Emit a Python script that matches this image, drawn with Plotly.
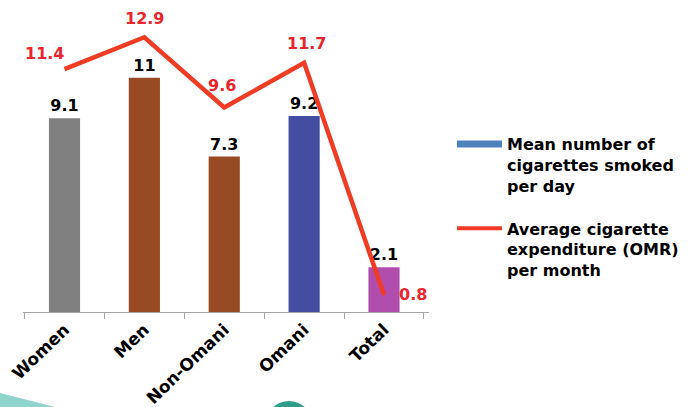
import plotly.graph_objects as go

categories = ["Women", "Men", "Non-Omani", "Omani", "Total"]
cigs_per_day = [9.1, 11, 7.3, 9.2, 2.1]
expenditure = [11.4, 12.9, 9.6, 11.7, 0.8]
bar_colors = ["#808080", "#964B22", "#964B22", "#434DA1", "#B14DAD"]
bar_name = "Mean number of<br>cigarettes smoked<br>per day"
line_name = "Average cigarette<br>expenditure (OMR)<br>per month"

W, H = 691, 407
ML, MR, MT, MB = 23, 262, 10, 95
PW, PH = W - ML - MR, H - MT - MB

def px_x(p):
    return (p - ML) / PW

def px_y(p):
    return (H - MB - p) / PH

FONT = "DejaVu Sans"

fig = go.Figure()
fig.add_trace(go.Bar(
    x=categories, y=cigs_per_day, marker=dict(color=bar_colors, line=dict(width=0)),
    width=0.39, showlegend=False,
    text=[str(v) for v in cigs_per_day], textposition="outside",
    textfont=dict(family=FONT, size=16, color="black", weight="bold"),
    cliponaxis=False,
))
fig.add_trace(go.Scatter(
    x=categories, y=expenditure, mode="lines",
    line=dict(color="#F03C24", width=4.5), showlegend=False, cliponaxis=False,
))
# legend entries
fig.add_trace(go.Scatter(x=[None], y=[None], mode="lines", name=bar_name,
                         line=dict(color="#4F81BD", width=7), legendgroup="a"))
fig.add_trace(go.Scatter(x=[None], y=[None], mode="lines", name=line_name,
                         line=dict(color="#F03C24", width=4), legendgroup="b"))

# line value labels
offsets = [(-20, 16), (0, 19), (-2, 22), (2, 19), (29, 0)]
for c, v, (dx, dy) in zip(categories, expenditure, offsets):
    fig.add_annotation(x=c, y=v, text=str(v), showarrow=False,
                       xshift=dx, yshift=dy,
                       font=dict(family=FONT, size=16, color="#E8262B", weight="bold"))

# decorative slide shapes
fig.add_shape(type="path", xref="paper", yref="paper",
              path=f"M {px_x(0)},{px_y(393)} L {px_x(55)},{px_y(407)} L {px_x(0)},{px_y(407)} Z",
              fillcolor="#8FD4CD", line=dict(width=0), layer="below")
fig.add_shape(type="circle", xref="paper", yref="paper",
              x0=px_x(266), x1=px_x(312), y0=px_y(447), y1=px_y(401),
              fillcolor="#2E9E8A", line=dict(width=0), layer="below")

fig.update_layout(
    width=W, height=H,
    margin=dict(l=ML, r=MR, t=MT, b=MB, autoexpand=False),
    plot_bgcolor="white", paper_bgcolor="white",
    bargap=0.6,
    xaxis=dict(showline=True, linecolor="#A6A6A6", linewidth=1,
               ticks="outside", ticklen=6, tickcolor="#A6A6A6",
               tickson="boundaries", tickangle=-44, automargin=False,
               tickfont=dict(family=FONT, size=17, color="black", weight="bold"),
               showgrid=False),
    yaxis=dict(range=[0, PH / 21.3], visible=False, showgrid=False),
    legend=dict(x=px_x(452), y=px_y(127), xanchor="left", yanchor="top",
                font=dict(family=FONT, size=16, color="black", weight="bold"),
                valign="top", tracegroupgap=19, itemwidth=45,
                bgcolor="rgba(0,0,0,0)"),
    showlegend=True,
)

fig.write_html("out.html")
